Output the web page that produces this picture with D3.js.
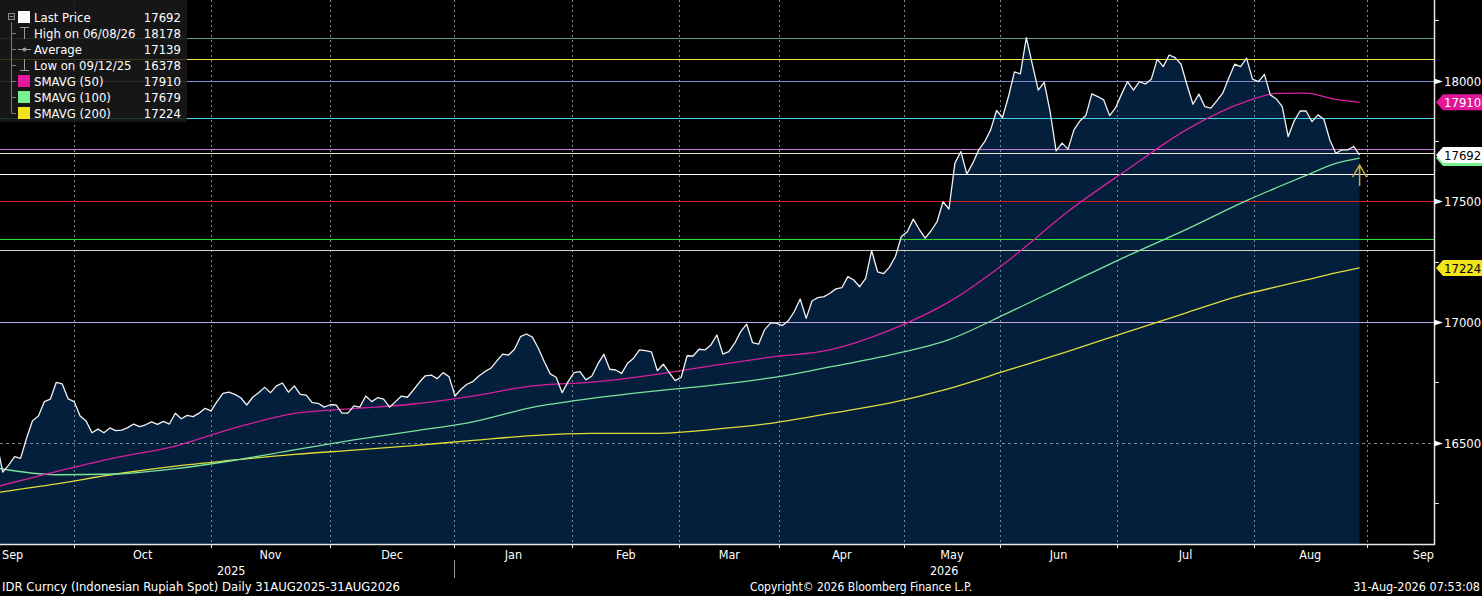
<!doctype html>
<html>
<head>
  <meta charset="utf-8">
  <title>IDR Curncy</title>
  <style>
    html, body { margin: 0; padding: 0; background: #000; }
    svg { display: block; font-family: "DejaVu Sans Condensed", "DejaVu Sans", sans-serif; }
  </style>
</head>
<body>
<div class="graphContainer"></div>
<script src="https://cdnjs.cloudflare.com/ajax/libs/d3/7.8.5/d3.min.js"></script>
<script>

// daily last price, one value per trading day (day 0 sits just left of the frame)
var price = [
  16500, 16378, 16407, 16442, 16435, 16518, 16591, 16610, 16670, 16680,
  16750, 16743, 16681, 16670, 16610, 16590, 16541, 16556, 16541, 16561,
  16550, 16552, 16562, 16577, 16566, 16574, 16586, 16576, 16588, 16577,
  16622, 16599, 16613, 16608, 16622, 16642, 16632, 16670, 16704, 16709,
  16700, 16686, 16656, 16688, 16707, 16729, 16707, 16735, 16747, 16709,
  16735, 16700, 16697, 16666, 16663, 16647, 16657, 16656, 16622, 16622,
  16652, 16647, 16693, 16670, 16686, 16680, 16647, 16670, 16693, 16688,
  16718, 16750, 16777, 16780, 16765, 16790, 16773, 16693, 16721, 16742,
  16753, 16776, 16794, 16808, 16838, 16867, 16863, 16887, 16939, 16950,
  16937, 16891, 16835, 16785, 16771, 16707, 16753, 16790, 16794, 16760,
  16776, 16826, 16866, 16804, 16801, 16787, 16829, 16850, 16884, 16881,
  16876, 16798, 16825, 16790, 16757, 16771, 16860, 16859, 16887, 16884,
  16905, 16946, 16867, 16877, 16912, 16960, 16991, 16914, 16908, 16967,
  16995, 16995, 16985, 17005, 17043, 17095, 17015, 17088, 17101, 17105,
  17119, 17137, 17142, 17188, 17174, 17146, 17181, 17296, 17208, 17200,
  17227, 17271, 17354, 17374, 17426, 17384, 17347, 17378, 17416, 17498,
  17468, 17658, 17706, 17613, 17658, 17713, 17747, 17796, 17876, 17847,
  17934, 18036, 18028, 18178, 18068, 17961, 17993, 17871, 17709, 17741,
  17716, 17796, 17833, 17855, 17945, 17934, 17920, 17855, 17888, 17944,
  17996, 17961, 17996, 17986, 18006, 18089, 18058, 18106, 18095, 18068,
  17982, 17902, 17944, 17892, 17886, 17916, 17948, 18010, 18068, 18058,
  18093, 18006, 17996, 18026, 17941, 17924, 17892, 17768, 17833, 17874,
  17874, 17830, 17858, 17840, 17754, 17699, 17713, 17713, 17727, 17692
];

// moving averages, read every 10 trading days
var smaDays = [0, 10, 20, 30, 40, 50, 60, 70, 80, 90, 100, 110, 120, 130, 140, 150, 160, 170, 180, 190, 200, 210, 215, 220, 225, 229];
var sma50  = [16318, 16380, 16438, 16486, 16561, 16621, 16641, 16660, 16693, 16735, 16751, 16780, 16818, 16854, 16884, 16965, 17083, 17255, 17458, 17632, 17798, 17914, 17947, 17948, 17922, 17910];
var sma100 = [16395, 16367, 16370, 16392, 16427, 16470, 16511, 16548, 16586, 16646, 16683, 16712, 16737, 16768, 16814, 16863, 16927, 17039, 17157, 17274, 17385, 17503, 17556, 17607, 17657, 17679];
var sma200 = [16293, 16329, 16370, 16403, 16428, 16451, 16469, 16488, 16509, 16529, 16538, 16538, 16554, 16580, 16621, 16664, 16724, 16801, 16878, 16959, 17039, 17116, 17145, 17174, 17203, 17224];

// drawn horizontal levels
var levelValues = [18178, 18091, 18000, 17844, 17717, 17700, 17612, 17500, 17345, 17297, 17000];
var levelColors = ["#5e9c84", "#f0ea40", "#7d8fd6", "#3fd3e6", "#c27ad6", "#ece6cc", "#ffffff", "#e01818", "#30e030", "#cfcfbb", "#c2a9ec"];

// time axis (trading-day units)
var firstDay = 0.54, lastDay = 241.5;
var monthTickDays = [13.0, 36.05, 55.95, 76.9, 96.7, 114.7, 131.5, 152.5, 168.5, 188.3, 211.2, 230.2];
var monthNames = ["Sep", "Oct", "Nov", "Dec", "Jan", "Feb", "Mar", "Apr", "May", "Jun", "Jul", "Aug", "Sep"];
var yearNames = ["2025", "2026"];

// value axis
var yBottom = 16080, yTop = 18334;
var yMajor = [16500, 17000, 17500, 18000];
var yMinor = [16250, 16750, 17250, 17750, 18250];

// legend
var legendLabels = ["Last Price", "High on 06/08/26", "Average", "Low on 09/12/25", "SMAVG (50)", "SMAVG (100)", "SMAVG (200)"];
var legendValues = [17692, 18178, 17139, 16378, 17910, 17679, 17224];
var legendSwatch = ["#ffffff", null, null, null, "#e8169c", "#77f08f", "#f2e41c"];

// right-hand value tags (drawn in this order, later ones on top)
var tagValues = [17910, 17679, 17692, 17224];
var tagFill = ["#e3169a", "#77f08f", "#ffffff", "#f2e41c"];
var tagText = ["#ffffff", null, "#000000", "#000000"];

function drawChart() {
    var W = 1482, H = 596;
    var plotW = 1434, plotH = 544;

    var x = d3.scaleLinear().domain([firstDay, lastDay]).range([0, plotW]);
    var y = d3.scaleLinear().domain([yBottom, yTop]).range([plotH, 0]);
    var py = function(v) { return Math.round(y(v)) + 0.5; };

    var svg = d3.select(".graphContainer")
        .append("svg")
        .attr("width", W)
        .attr("height", H);

    svg.append("rect").attr("width", W).attr("height", H).attr("fill", "#000");

    svg.append("clipPath").attr("id", "plotClip")
        .append("rect").attr("width", plotW).attr("height", plotH);

    var plot = svg.append("g").attr("clip-path", "url(#plotClip)");

    // shaded area under price
    var area = d3.area()
        .x(function(d, i) { return x(i); })
        .y0(plotH)
        .y1(function(d) { return y(d); });
    plot.append("path").datum(price).attr("d", area).attr("fill", "#031f3c");

    // grid
    plot.selectAll("line.vgrid").data(monthTickDays).join("line")
        .attr("class", "vgrid")
        .attr("x1", function(d) { return Math.round(x(d)) + 0.5; })
        .attr("x2", function(d) { return Math.round(x(d)) + 0.5; })
        .attr("y1", 0).attr("y2", plotH)
        .attr("stroke", "#7c8896").attr("stroke-width", 1)
        .attr("stroke-dasharray", "2,3");
    plot.selectAll("line.hgrid").data(yMajor).join("line")
        .attr("class", "hgrid")
        .attr("x1", 0).attr("x2", plotW)
        .attr("y1", py).attr("y2", py)
        .attr("stroke", "#7c8896").attr("stroke-width", 1)
        .attr("stroke-dasharray", "3,3");

    // level lines
    plot.selectAll("line.level").data(levelValues).join("line")
        .attr("class", "level")
        .attr("x1", 0).attr("x2", plotW)
        .attr("y1", py).attr("y2", py)
        .attr("stroke", function(d, i) { return levelColors[i]; })
        .attr("stroke-width", 1.5)
        .attr("shape-rendering", "crispEdges");

    // moving averages
    var smaLine = d3.line()
        .x(function(d, i) { return x(smaDays[i]); })
        .y(function(d) { return y(d); })
        .curve(d3.curveMonotoneX);
    [[sma200, "#e2dc3a"], [sma100, "#7ce39a"], [sma50, "#d8209e"]].forEach(function(s) {
        plot.append("path").datum(s[0]).attr("d", smaLine)
            .attr("fill", "none").attr("stroke", s[1]).attr("stroke-width", 1.3);
    });

    // price line
    var priceLine = d3.line()
        .x(function(d, i) { return x(i); })
        .y(function(d) { return y(d); });
    plot.append("path").datum(price).attr("d", priceLine)
        .attr("fill", "none").attr("stroke", "#f2f2f2").attr("stroke-width", 1.3)
        .attr("stroke-linejoin", "round");

    // little arrow under the last point
    var ax = x(price.length - 1), ay = y(sma100[sma100.length - 1]) + 7;
    plot.append("path")
        .attr("d", "M" + (ax - 7) + "," + (ay + 12) + "L" + ax + "," + ay + "L" + (ax + 7) + "," + (ay + 12) +
                   "M" + ax + "," + ay + "L" + ax + "," + (ay + 21))
        .attr("fill", "none").attr("stroke", "#c9a93a").attr("stroke-width", 1.5);

    // axes frame
    svg.append("line").attr("x1", plotW + 0.5).attr("x2", plotW + 0.5).attr("y1", 0).attr("y2", plotH + 1)
        .attr("stroke", "#e6e6e6").attr("stroke-width", 1.5);
    svg.append("line").attr("x1", 0).attr("x2", plotW + 1).attr("y1", plotH + 0.5).attr("y2", plotH + 0.5)
        .attr("stroke", "#e6e6e6").attr("stroke-width", 1.5);

    // right axis ticks and labels
    svg.selectAll("line.ymin").data(yMinor).join("line")
        .attr("class", "ymin")
        .attr("x1", plotW).attr("x2", plotW + 5)
        .attr("y1", py).attr("y2", py)
        .attr("stroke", "#e6e6e6");
    svg.selectAll("path.ytri").data(yMajor).join("path")
        .attr("class", "ytri")
        .attr("d", function(d) {
            var yy = py(d);
            return "M" + plotW + "," + (yy - 3) + "L" + (plotW + 9) + "," + yy + "L" + plotW + "," + (yy + 3) + "Z";
        })
        .attr("fill", "#ffffff");
    svg.selectAll("text.ymaj").data(yMajor).join("text")
        .attr("class", "ymaj")
        .attr("x", plotW + 10).attr("y", function(d) { return y(d) + 5; })
        .attr("fill", "#ffffff").attr("font-size", "13px")
        .text(function(d) { return d; });

    // value tags
    tagValues.forEach(function(v, i) {
        var ty = y(v);
        svg.append("path")
            .attr("d", "M" + (plotW + 2) + "," + ty + "L" + (plotW + 9) + "," + (ty - 8) + "L" + W + "," + (ty - 8) +
                       "L" + W + "," + (ty + 8) + "L" + (plotW + 9) + "," + (ty + 8) + "Z")
            .attr("fill", tagFill[i]);
        if (tagText[i]) {
            svg.append("text").attr("x", plotW + 10).attr("y", ty + 5)
                .attr("fill", tagText[i]).attr("font-size", "13px").text(v);
        }
    });

    // month ticks and labels
    svg.selectAll("line.xtick").data(monthTickDays).join("line")
        .attr("class", "xtick")
        .attr("x1", function(d) { return Math.round(x(d)) + 0.5; })
        .attr("x2", function(d) { return Math.round(x(d)) + 0.5; })
        .attr("y1", plotH).attr("y2", plotH + 4)
        .attr("stroke", "#e6e6e6");
    var bounds = [firstDay].concat(monthTickDays).concat([lastDay]);
    svg.selectAll("text.xlab").data(monthNames).join("text")
        .attr("class", "xlab")
        .attr("x", function(d, i) {
            if (i === 0) return 2;
            if (i === monthNames.length - 1) return plotW;
            return (x(bounds[i]) + x(bounds[i + 1])) / 2;
        })
        .attr("y", plotH + 15)
        .attr("text-anchor", function(d, i) {
            if (i === 0) return "start";
            if (i === monthNames.length - 1) return "end";
            return "middle";
        })
        .attr("fill", "#ffffff").attr("font-size", "12.5px")
        .text(function(d) { return d; });

    var janX = x(monthTickDays[3]);
    var yearPos = [janX / 2 + 4, (janX + plotW) / 2];
    svg.selectAll("text.year").data(yearNames).join("text")
        .attr("class", "year")
        .attr("x", function(d, i) { return yearPos[i]; })
        .attr("y", plotH + 31)
        .attr("text-anchor", "middle")
        .attr("fill", "#ffffff").attr("font-size", "12.5px")
        .text(function(d) { return d; });
    svg.append("line").attr("x1", Math.round(janX) + 0.5).attr("x2", Math.round(janX) + 0.5)
        .attr("y1", plotH + 16).attr("y2", plotH + 34).attr("stroke", "#9a9a9a");

    // footer
    svg.append("text").attr("x", 2).attr("y", 591).attr("fill", "#ffffff").attr("font-size", "13px")
        .text("IDR Curncy (Indonesian Rupiah Spot) Daily 31AUG2025-31AUG2026");
    svg.append("text").attr("x", 861).attr("y", 591).attr("text-anchor", "middle").attr("fill", "#ffffff").attr("font-size", "12px")
        .text("Copyright\u00a9 2026 Bloomberg Finance L.P.");
    svg.append("text").attr("x", 1480).attr("y", 591).attr("text-anchor", "end").attr("fill", "#ffffff").attr("font-size", "12.5px")
        .text("31-Aug-2026 07:53:08");

    // legend
    var lg = svg.append("g");
    lg.append("rect").attr("width", 187).attr("height", 122).attr("fill", "rgba(26,26,26,0.85)");
    var rowY = function(i) { return 17 + 16 * i; };
    lg.append("line").attr("x1", 11.5).attr("x2", 11.5).attr("y1", 22).attr("y2", rowY(6) + 0.5)
        .attr("stroke", "#7a7a7a");
    lg.append("rect").attr("x", 8.5).attr("y", 13.5).attr("width", 6).attr("height", 6)
        .attr("fill", "#1e1e1e").attr("stroke", "#8a8a8a");
    lg.append("line").attr("x1", 9.5).attr("x2", 13.5).attr("y1", 16.5).attr("y2", 16.5).attr("stroke", "#8a8a8a");

    legendLabels.forEach(function(lab, i) {
        var cy = rowY(i);
        if (i > 0) {
            lg.append("line").attr("x1", 11.5).attr("x2", 16).attr("y1", cy + 0.5).attr("y2", cy + 0.5).attr("stroke", "#7a7a7a");
        }
        if (legendSwatch[i]) {
            lg.append("rect").attr("x", 18).attr("y", cy - 6).attr("width", 12).attr("height", 12)
                .attr("fill", legendSwatch[i]);
        } else if (i === 1) {
            lg.append("path").attr("d", "M20," + (cy - 5.5) + "H29M24.5," + (cy - 5.5) + "V" + (cy + 6))
                .attr("stroke", "#9a9a9a").attr("fill", "none");
        } else if (i === 2) {
            lg.append("line").attr("x1", 18).attr("x2", 31).attr("y1", cy + 0.5).attr("y2", cy + 0.5).attr("stroke", "#9a9a9a");
            lg.append("circle").attr("cx", 24.5).attr("cy", cy + 0.5).attr("r", 2).attr("fill", "#9a9a9a");
        } else if (i === 3) {
            lg.append("path").attr("d", "M24.5," + (cy - 6) + "V" + (cy + 5.5) + "M20," + (cy + 5.5) + "H29")
                .attr("stroke", "#9a9a9a").attr("fill", "none");
        }
        lg.append("text").attr("x", 34).attr("y", cy + 5)
            .attr("fill", "#ffffff").attr("font-size", "13px").text(lab);
        lg.append("text").attr("x", 181).attr("y", cy + 5).attr("text-anchor", "end")
            .attr("fill", "#ffffff").attr("font-size", "13px").text(legendValues[i]);
    });
}

drawChart();

</script>
</body>
</html>
